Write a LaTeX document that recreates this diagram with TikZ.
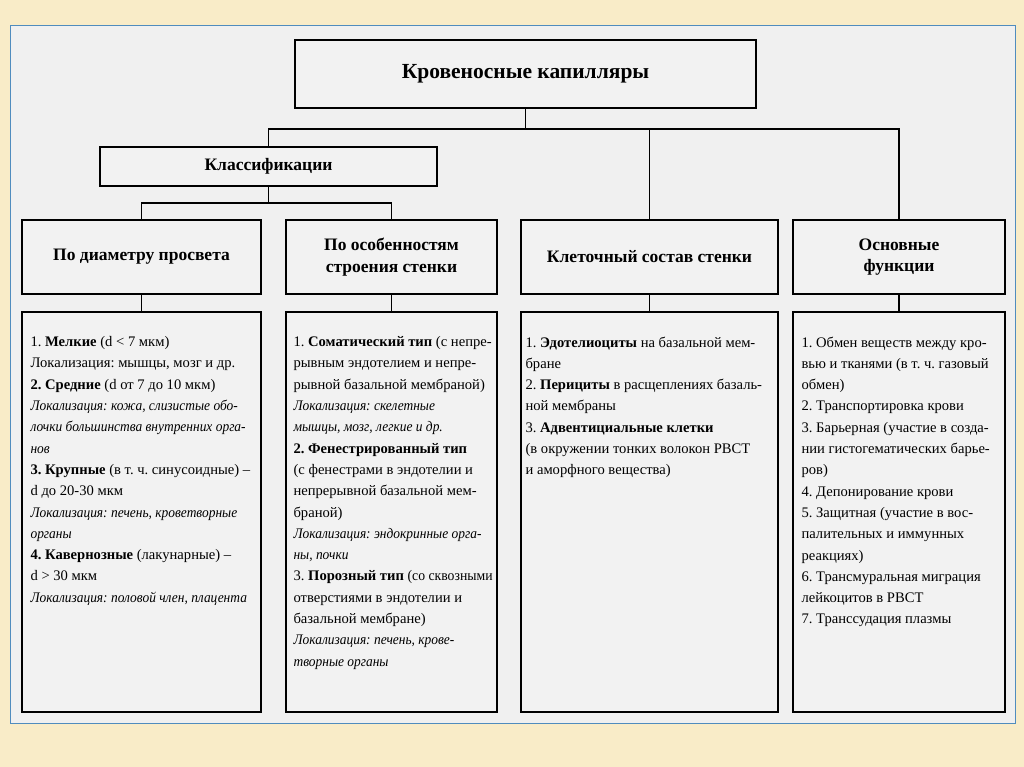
\documentclass[tikz,border=0pt]{standalone}
\usepackage{fontspec}
\setmainfont{Liberation Serif}[ItalicFeatures={FakeStretch=0.92}]
\frenchspacing
\definecolor{parch}{RGB}{249,236,200}
\definecolor{panel}{RGB}{240,240,240}
\definecolor{panelline}{RGB}{80,140,190}
\definecolor{boxfill}{RGB}{242,242,242}
\tikzset{
  box/.style={draw=black, line width=1.3pt, fill=boxfill, inner sep=0pt, align=center},
  titlefont/.style={font=\fontsize{21.5}{24}\selectfont\bfseries},
  headfont/.style={font=\fontsize{17.5}{21.5}\selectfont\bfseries},
  bodytext/.style={font=\fontsize{14.6}{21.3}\selectfont\frenchspacing, align=left, inner sep=0pt, anchor=north west},
  link/.style={draw=black, line width=1.3pt}
}
\begin{document}
\begin{tikzpicture}[x=1pt,y=-1pt]
\useasboundingbox (0,0) rectangle (1024,767);
\fill[parch] (0,0) rectangle (1024,767);
\draw[panelline, fill=panel, line width=1pt] (10,26) rectangle (1015,723);

% level 0
\node[box, titlefont, minimum width=461pt, minimum height=68pt] (top) at (525.5,74) {Кровеносные капилляры};
% level 1
\node[box, headfont, minimum width=337pt, minimum height=39pt] (klass) at (268.5,166.5) {Классификации};
% level 2
\node[box, headfont, minimum width=239pt, minimum height=74pt] (A) at (141.5,257) {По диаметру просвета};
\node[box, headfont, minimum width=211pt, minimum height=74pt] (B) at (391.5,257) {По особенностям\\строения стенки};
\node[box, headfont, minimum width=257pt, minimum height=74pt] (C) at (649.5,257) {Клеточный состав стенки};
\node[box, headfont, minimum width=212pt, minimum height=74pt] (D) at (899,257) {Основные\\функции};
% level 3
\node[box, minimum width=239pt, minimum height=400pt] (A3) at (141.5,512) {};
\node[box, minimum width=211pt, minimum height=400pt] (B3) at (391.5,512) {};
\node[box, minimum width=257pt, minimum height=400pt] (C3) at (649.5,512) {};
\node[box, minimum width=212pt, minimum height=400pt] (D3) at (899,512) {};

% junctions
\coordinate (j1) at (525.5,129);
\coordinate (j2) at (268.5,203);

\draw[link] (top.south) -- (j1);
\draw[link] (klass.north) |- (j1);
\draw[link] (C.north) |- (j1);
\draw[link] (D.north) |- (j1);
\draw[link] (klass.south) -- (j2);
\draw[link] (A.north) |- (j2);
\draw[link] (B.north) |- (j2);
\draw[link] (A.south) -- (A3.north);
\draw[link] (B.south) -- (B3.north);
\draw[link] (C.south) -- (C3.north);
\draw[link] (D.south) -- (D3.north);

% texts
\node[bodytext] (At) at ([xshift=9pt,yshift=-25pt]A3.north west) {%
1. \textbf{Мелкие} (d < 7 мкм)\\
Локализация: мышцы, мозг и др.\\
\textbf{2. Средние} (d от 7 до 10 мкм)\\
\textit{Локализация: кожа, слизистые обо-}\\
\textit{лочки большинства внутренних орга-}\\
\textit{нов}\\
\textbf{3. Крупные} (в т. ч. синусоидные) –\\
d до 20-30 мкм\\
\textit{Локализация: печень, кроветворные}\\
\textit{органы}\\
\textbf{4. Кавернозные} (лакунарные) –\\
d > 30 мкм\\
\textit{Локализация: половой член, плацента}};

\node[bodytext] (Bt) at ([xshift=8pt,yshift=-25pt]B3.north west) {%
1. \textbf{Соматический тип} (с непре-\\
рывным эндотелием и непре-\\
рывной базальной мембраной)\\
\textit{Локализация: скелетные}\\
\textit{мышцы, мозг, легкие и др.}\\
\textbf{2. Фенестрированный тип}\\
(с фенестрами в эндотелии и\\
непрерывной базальной мем-\\
браной)\\
\textit{Локализация: эндокринные орга-}\\
\textit{ны, почки}\\
3. \textbf{Порозный тип} \scalebox{0.94}[1]{(со сквозными}\\
отверстиями в эндотелии и\\
базальной мембране)\\
\textit{Локализация: печень, крове-}\\
\textit{творные органы}};

\node[bodytext] (Ct) at ([xshift=5pt,yshift=-25pt]C3.north west) {%
1. \textbf{Эдотелиоциты} на базальной мем-\\
бране\\
2. \textbf{Перициты} в расщеплениях базаль-\\
ной мембраны\\
3. \textbf{Адвентициальные клетки}\\
(в окружении тонких волокон РВСТ\\
и аморфного вещества)};

\node[bodytext] (Dt) at ([xshift=9pt,yshift=-25pt]D3.north west) {%
1. Обмен веществ между кро-\\
вью и тканями (в т. ч. газовый\\
обмен)\\
2. Транспортировка крови\\
3. Барьерная (участие в созда-\\
нии гистогематических барье-\\
ров)\\
4. Депонирование крови\\
5. Защитная (участие в вос-\\
палительных и иммунных\\
реакциях)\\
6. Трансмуральная миграция\\
лейкоцитов в РВСТ\\
7. Транссудация плазмы};
\end{tikzpicture}
\end{document}
